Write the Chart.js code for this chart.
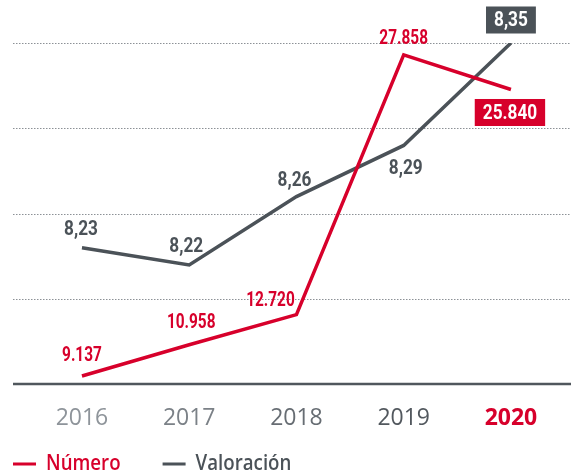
<!DOCTYPE html>
<html lang="es">
<head>
<meta charset="utf-8">
<script src="https://cdn.jsdelivr.net/npm/chart.js@4/dist/chart.umd.min.js"></script>
<style>
  html, body { margin: 0; padding: 0; background: #fff; }
</style>
</head>
<body>
<canvas id="grafico" width="571" height="476"></canvas>
<script>
// Datos del gráfico
const anios = ['2016', '2017', '2018', '2019', '2020'];
const numero = [9137, 10958, 12720, 27858, 25840];
const valoracion = [8.23, 8.22, 8.26, 8.29, 8.35];

// Estilo
const ROJO = '#d7002b';
const GRIS = '#4b5258';
const coloresAnio = ['#8e949a', '#7b8187', '#676d73', '#52585e', ROJO];
const FUENTE_ETIQ = 'Roboto, "DejaVu Sans", sans-serif';
const FUENTE = '"Open Sans", sans-serif';
const destacado = anios.length - 1;

// desplazamiento de cada etiqueta respecto a su punto
const despNumero = [[0, -21], [2, -23], [-26, -15], [0, -17], [-1, 23]];
const despValoracion = [[-1, -19], [-3, -19], [-2, -17], [2, 22], [0, -23]];

const formatoNumero = (v) => v.toLocaleString('de-DE');
const formatoValoracion = (v) => v.toFixed(2).replace('.', ',');

// texto comprimido en horizontal para imitar una tipografía condensada
const textoEstrecho = (ctx, texto, x, y, escala) => {
  ctx.save();
  ctx.translate(x, y);
  ctx.scale(escala, 1);
  ctx.fillText(texto, 0, 0);
  ctx.restore();
};

const rejilla = {
  id: 'rejilla',
  beforeDatasetsDraw(chart) {
    const { ctx } = chart;
    const escala = chart.scales.y1;
    escala.ticks.forEach((t, i) => {
      const y = Math.round(escala.getPixelForValue(t.value));
      ctx.save();
      ctx.beginPath();
      if (i === 0) {
        ctx.strokeStyle = '#50575d';
        ctx.lineWidth = 2.5;
        ctx.moveTo(13, y);
        ctx.lineTo(chart.width, y);
      } else {
        ctx.strokeStyle = '#8c9196';
        ctx.lineWidth = 1;
        ctx.setLineDash([1.5, 1.5]);
        ctx.moveTo(13, y + 0.5);
        ctx.lineTo(chart.width, y + 0.5);
      }
      ctx.stroke();
      ctx.restore();
    });
  }
};

const etiquetas = {
  id: 'etiquetas',
  afterDatasetsDraw(chart) {
    const { ctx } = chart;
    chart.data.datasets.forEach((ds, d) => {
      const meta = chart.getDatasetMeta(d);
      meta.data.forEach((pt, i) => {
        const [dx, dy] = ds.desplazamientos[i];
        const texto = ds.formato(ds.data[i].y);
        const x = pt.x + dx;
        const y = pt.y + dy;
        let escala = ds.estrecho;
        ctx.save();
        ctx.textAlign = 'center';
        ctx.textBaseline = 'middle';
        if (i === destacado) {
          escala = 0.82;
          ctx.font = 'bold 21px ' + FUENTE_ETIQ;
          const ancho = ctx.measureText(texto).width * escala + 16;
          ctx.fillStyle = ds.borderColor;
          ctx.fillRect(x - ancho / 2, y - 13.5, ancho, 27);
          ctx.fillStyle = '#fff';
        } else {
          ctx.font = 'bold ' + ds.tamEtiqueta + 'px ' + FUENTE_ETIQ;
          ctx.fillStyle = ds.borderColor;
        }
        textoEstrecho(ctx, texto, x, y + 1, escala);
        ctx.restore();
      });
    });
  }
};

const leyenda = {
  id: 'leyenda',
  afterDraw(chart) {
    const { ctx } = chart;
    const y = chart.height - 12;
    const escala = 0.89;
    let x = 13;
    ctx.save();
    ctx.font = '600 21px ' + FUENTE;
    ctx.textBaseline = 'middle';
    chart.data.datasets.forEach((ds) => {
      ctx.fillStyle = ds.borderColor;
      ctx.fillRect(x, y - 1.5, 23, 3);
      x += 33;
      textoEstrecho(ctx, ds.label, x, y, escala);
      x += ctx.measureText(ds.label).width * escala + 42;
    });
    ctx.restore();
  }
};

const comunes = {
  pointRadius: 0,
  pointHoverRadius: 0,
  borderWidth: 3.5,
  tension: 0,
  borderJoinStyle: 'miter',
  fill: false
};

new Chart(document.getElementById('grafico').getContext('2d'), {
  type: 'line',
  data: {
    datasets: [
      Object.assign({
        label: 'Número',
        data: numero.map((v, i) => ({ x: i, y: v })),
        yAxisID: 'y',
        borderColor: ROJO,
        desplazamientos: despNumero,
        formato: formatoNumero,
        tamEtiqueta: 20,
        estrecho: 0.77
      }, comunes),
      Object.assign({
        label: 'Valoración',
        data: valoracion.map((v, i) => ({ x: i, y: v })),
        yAxisID: 'y1',
        borderColor: GRIS,
        desplazamientos: despValoracion,
        formato: formatoValoracion,
        tamEtiqueta: 21,
        estrecho: 0.82
      }, comunes)
    ]
  },
  options: {
    responsive: false,
    animation: false,
    layout: { padding: { top: 43, left: 13, right: 0, bottom: 24 } },
    plugins: {
      legend: { display: false },
      tooltip: { enabled: false }
    },
    scales: {
      x: {
        type: 'linear',
        min: -0.643,
        max: 4.56,
        grid: { display: false, drawTicks: false },
        border: { display: false },
        afterBuildTicks: (eje) => { eje.ticks = anios.map((_, i) => ({ value: i })); },
        ticks: {
          padding: 20,
          autoSkip: false,
          maxRotation: 0,
          callback: (v) => anios[v],
          color: (c) => coloresAnio[c.index],
          font: (c) => ({ family: FUENTE, size: 23, weight: c.index === destacado ? 'bold' : 'normal' })
        }
      },
      y: { display: false, min: 8650, max: 28550 },
      y1: { display: false, min: 8.15, max: 8.35, ticks: { stepSize: 0.05 } }
    }
  },
  plugins: [rejilla, etiquetas, leyenda]
});
</script>
</body>
</html>
